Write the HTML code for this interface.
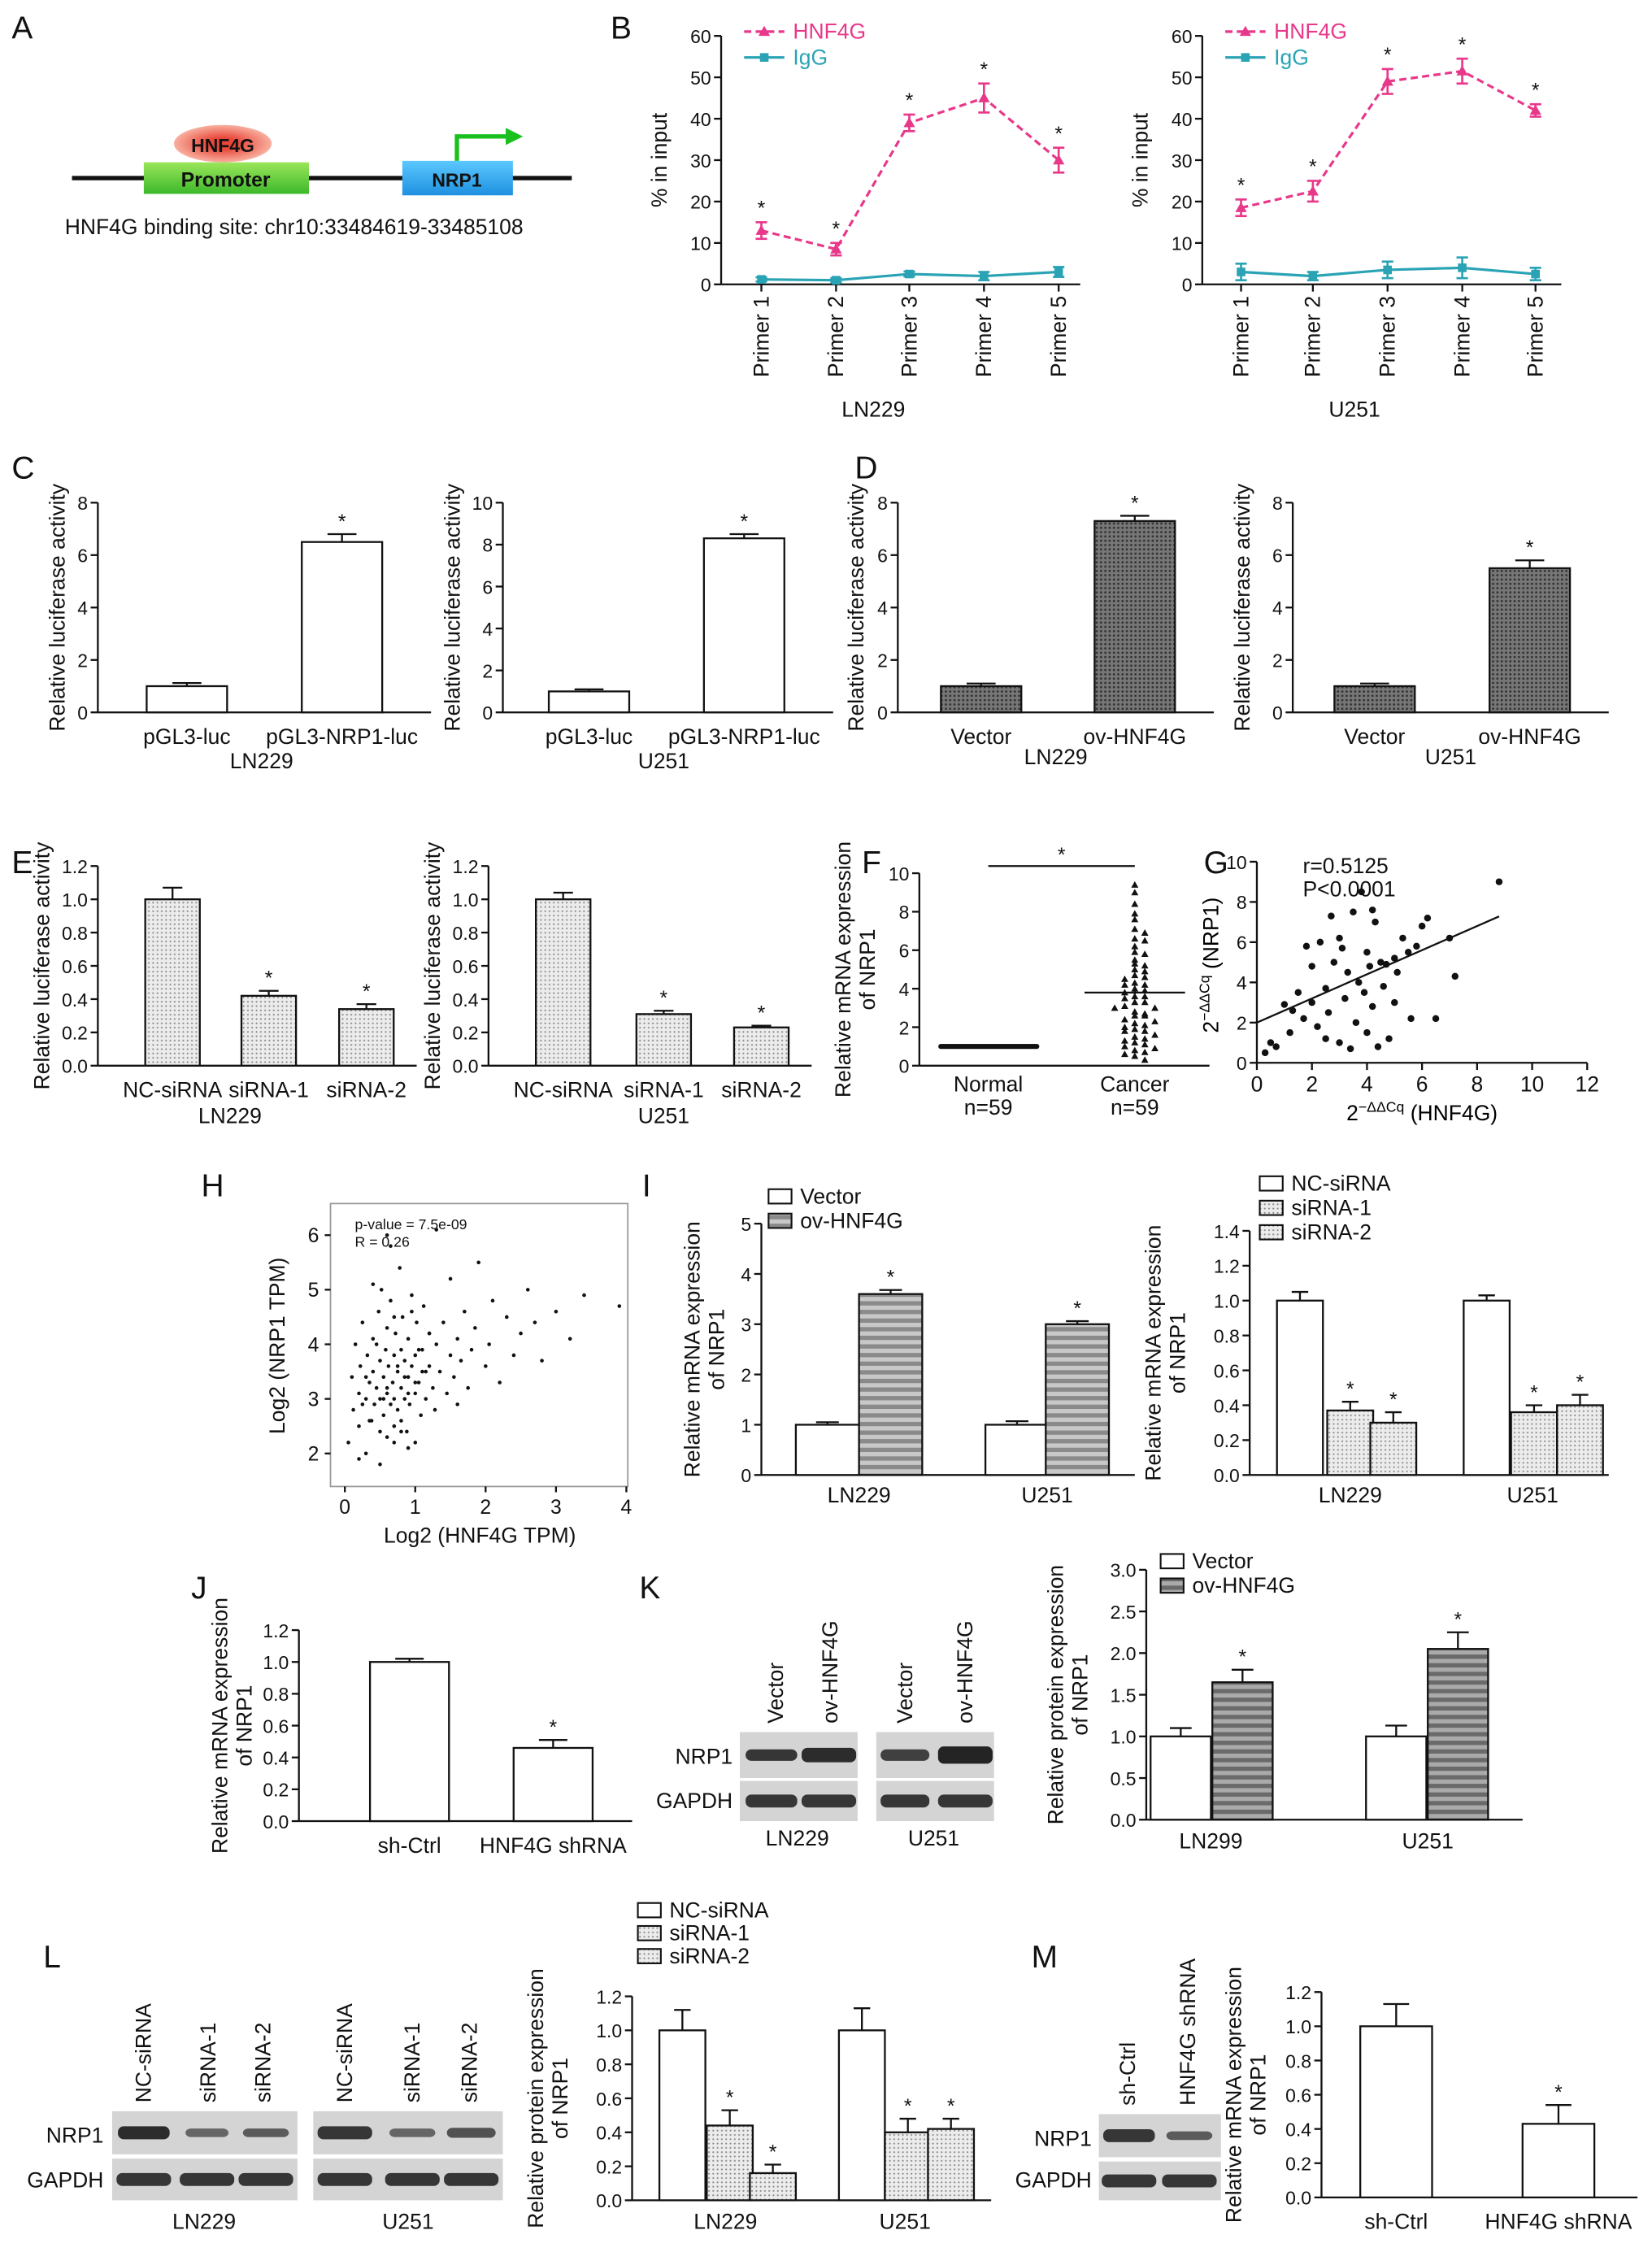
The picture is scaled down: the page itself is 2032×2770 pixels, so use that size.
<!DOCTYPE html>
<html><head><meta charset="utf-8"><style>
html,body{margin:0;padding:0;background:#fff;}
svg{display:block;font-family:"Liberation Sans",Arial,sans-serif;}
</style></head><body>
<svg id="fig" width="2032" height="2770" viewBox="0 0 1150 1568" xmlns="http://www.w3.org/2000/svg">
<defs>
<pattern id="pDots" width="3" height="3" patternUnits="userSpaceOnUse"><rect width="3" height="3" fill="#ececec"/><circle cx="1.5" cy="1.5" r="0.6" fill="#888"/></pattern>
<pattern id="pDark" width="3" height="3" patternUnits="userSpaceOnUse"><rect width="3" height="3" fill="#777"/><circle cx="1.5" cy="1.5" r="0.8" fill="#333"/></pattern>
<pattern id="pStripe" width="6" height="6" patternUnits="userSpaceOnUse"><rect width="6" height="6" fill="#c8c8c8"/><rect width="6" height="3" fill="#8a8a8a"/></pattern>
<pattern id="pStripe2" width="6" height="6" patternUnits="userSpaceOnUse"><rect width="6" height="6" fill="#aaa"/><rect width="6" height="3" fill="#6a6a6a"/></pattern>
<linearGradient id="gProm" x1="0" y1="0" x2="0" y2="1"><stop offset="0" stop-color="#9be65a"/><stop offset="1" stop-color="#3cb82a"/></linearGradient>
<linearGradient id="gNrp" x1="0" y1="0" x2="0" y2="1"><stop offset="0" stop-color="#5cc8ff"/><stop offset="1" stop-color="#1e90e0"/></linearGradient>
<radialGradient id="gHnf"><stop offset="0.3" stop-color="#e8473a"/><stop offset="1" stop-color="#f8b0a0"/></radialGradient>
</defs>
</svg>
<script>
// ---------------- DATA ----------------
const B_primers=['Primer 1','Primer 2','Primer 3','Primer 4','Primer 5'];
const B1_hnf=[13,8.5,39,45,30];
const B1_hnfErr=[2,1.5,2,3.5,3];
const B1_igg=[1.2,1,2.5,2,3];
const B1_iggErr=[0.5,0.5,0.6,1,1.2];
const B2_hnf=[18.5,22.5,49,51.5,42];
const B2_hnfErr=[2,2.5,3,3,1.5];
const B2_igg=[3,2,3.5,4,2.5];
const B2_iggErr=[2,1,2,2.5,1.5];
const C_cats=['pGL3-luc','pGL3-NRP1-luc'];
const C1_vals=[1.0,6.5];const C1_err=[0.12,0.3];
const C2_vals=[1.0,8.3];const C2_err=[0.1,0.2];
const D_cats=['Vector','ov-HNF4G'];
const D1_vals=[1.0,7.3];const D1_err=[0.1,0.2];
const D2_vals=[1.0,5.5];const D2_err=[0.1,0.3];
const E_cats=['NC-siRNA','siRNA-1','siRNA-2'];
const E1_vals=[1.0,0.42,0.34];const E1_err=[0.07,0.03,0.03];
const E2_vals=[1.0,0.31,0.23];const E2_err=[0.04,0.02,0.01];
const F_normal=1.0;
const F_cancer=[9.4,9.0,8.4,7.9,7.6,7.1,6.9,6.6,6.5,6.2,5.9,5.8,5.5,5.3,5.2,5.0,4.9,4.7,4.6,4.5,4.3,4.2,4.2,4.0,3.9,3.8,3.6,3.6,3.5,3.3,3.3,3.1,3.0,3.0,2.8,2.7,2.6,2.6,2.4,2.3,2.2,2.1,2.0,1.9,1.8,1.8,1.6,1.5,1.4,1.3,1.2,1.1,1.0,0.9,0.8,0.7,0.6,0.5,0.3];
const F_mean=3.8;const F_sem=0.3;
const G_x=[0.3,0.5,0.7,1,1.2,1.5,1.7,2,2,2.2,2.3,2.5,2.6,2.8,3,3,3.2,3.3,3.4,3.5,3.6,3.7,3.8,3.9,4,4,4.1,4.2,4.3,4.4,4.5,4.6,4.7,4.8,5,5,5.1,5.3,5.5,5.6,5.8,6,6.2,6.5,7,7.2,8.8,1.8,2.7,4.2,3.1,2.5,1.3];
const G_y=[0.5,1,0.8,2.9,1.5,3.5,2.2,3,4.8,1.8,6,3.7,2.5,5,1,6.2,3.2,4.5,0.7,7.5,2,4,8.5,3.5,1.5,5.5,4.8,2.8,7,0.8,5,3.8,4.9,1.2,5.2,3,4.5,6.2,5.5,2.2,5.8,6.8,7.2,2.2,6.2,4.3,9,5.8,7.3,7.6,5.7,1.2,2.6];
const G_fit=[2.0,0.6];
const H_x=[0.05,0.1,0.12,0.15,0.2,0.2,0.22,0.25,0.3,0.3,0.32,0.35,0.38,0.4,0.4,0.42,0.45,0.48,0.5,0.5,0.5,0.52,0.55,0.55,0.58,0.6,0.6,0.6,0.62,0.65,0.65,0.68,0.7,0.7,0.7,0.72,0.75,0.75,0.78,0.8,0.8,0.8,0.82,0.85,0.85,0.88,0.9,0.9,0.92,0.95,0.95,1.0,1.0,1.0,1.02,1.05,1.08,1.1,1.1,1.12,1.15,1.2,1.2,1.25,1.28,1.3,1.35,1.4,1.45,1.5,1.5,1.55,1.6,1.65,1.7,1.75,1.8,1.85,1.9,2.0,2.05,2.1,2.2,2.3,2.4,2.5,2.6,2.7,2.8,3.0,3.2,3.4,3.9,0.3,0.45,0.6,0.75,0.9,1.05,1.2,0.35,0.55,0.7,0.85,1.0,0.25,0.65,0.95,1.15,0.5,0.8,0.4,0.6,0.7,1.3,1.6,0.2,0.9];
const H_y=[2.2,3.4,2.8,4.0,3.1,2.5,3.6,4.4,3.0,2.0,3.8,3.3,2.6,4.1,3.5,2.9,3.2,4.6,2.4,3.7,3.0,5.0,3.4,2.7,3.9,3.1,4.3,2.3,3.6,2.9,4.8,3.3,3.0,3.8,2.5,4.2,3.5,2.8,5.4,3.2,3.9,2.6,4.5,3.0,3.7,2.4,3.4,4.1,2.9,3.6,4.9,3.1,3.8,2.2,4.4,3.3,2.7,3.9,3.5,4.7,3.0,3.6,4.2,3.2,2.8,4.0,3.5,4.4,3.1,3.8,5.2,3.4,4.1,3.7,4.6,3.2,3.9,4.3,5.5,3.6,4.0,4.8,3.3,4.5,3.8,4.2,5.0,4.4,3.7,4.6,4.1,4.9,4.7,3.4,4.0,3.2,3.6,3.1,3.9,4.2,2.6,3.0,4.5,3.4,3.3,2.9,5.8,4.6,3.5,1.8,2.4,5.1,6.0,2.2,6.1,2.9,1.9,2.1];
const I1_groups=['LN229','U251'];
const I1_vec=[1.0,1.0];const I1_vecErr=[0.05,0.07];
const I1_ov=[3.6,3.0];const I1_ovErr=[0.08,0.06];
const I2_nc=[1.0,1.0];const I2_ncErr=[0.05,0.03];
const I2_s1=[0.37,0.36];const I2_s1Err=[0.05,0.04];
const I2_s2=[0.30,0.40];const I2_s2Err=[0.06,0.06];
const J_cats=['sh-Ctrl','HNF4G shRNA'];
const J_vals=[1.0,0.46];const J_err=[0.02,0.05];
const K_groups=['LN299','U251'];
const K_vec=[1.0,1.0];const K_vecErr=[0.1,0.13];
const K_ov=[1.65,2.05];const K_ovErr=[0.15,0.2];
const L_groups=['LN229','U251'];
const L_nc=[1.0,1.0];const L_ncErr=[0.12,0.13];
const L_s1=[0.44,0.40];const L_s1Err=[0.09,0.08];
const L_s2=[0.16,0.42];const L_s2Err=[0.05,0.06];
const M_cats=['sh-Ctrl','HNF4G shRNA'];
const M_vals=[1.0,0.43];const M_err=[0.13,0.11];

// ---------------- HELPERS ----------------
const NS='http://www.w3.org/2000/svg';
const svg=document.getElementById('fig');
function el(tag,attrs,name,parent,text){
  const e=document.createElementNS(NS,tag);
  for(const k in attrs)e.setAttribute(k,attrs[k]);
  
  
  if(text!==undefined)e.textContent=text;
  (parent||svg).appendChild(e);return e;
}
function grp(name){return el('g',{},name);}
function T(g,x,y,s,name,o){o=o||{};
  const a={x:x,y:y,'font-size':o.fs||14,'text-anchor':o.a||'middle',fill:o.fill||'#111'};
  if(o.rot!==undefined)a.transform='rotate('+o.rot+' '+x+' '+y+')';
  if(o.fw)a['font-weight']=o.fw;
  return el('text',a,name,g,s);}
function L(g,x1,y1,x2,y2,name,o){o=o||{};
  const a={x1:x1,y1:y1,x2:x2,y2:y2,stroke:o.c||'#111','stroke-width':o.w||1.3};
  if(o.dash)a['stroke-dasharray']=o.dash;
  return el('line',a,name,g);}
function panelLabel(s,x,y){T(svg,x,y,s,'panel-label-'+s.toLowerCase(),{fs:22,a:'start'});}
function yAxis(g,ax){
  const sc=v=>ax.y0-(v/ax.max)*(ax.y0-ax.y1);
  L(g,ax.x,ax.y0,ax.x,ax.y1,'y-axis-line');
  for(let v=0;v<=ax.max+1e-9;v+=ax.step){
    const y=sc(v);L(g,ax.x-5,y,ax.x,y,'y-tick');
    T(g,ax.x-7,y+5,v.toFixed(ax.dec||0),'y-tick-label',{a:'end',fs:13});
  }
  if(ax.xEnd)L(g,ax.x,ax.y0,ax.xEnd,ax.y0,'x-axis-line');
  if(ax.ylabel){const my=(ax.y0+ax.y1)/2;
    ax.ylabel.forEach((s,i)=>T(g,ax.ylx+i*17,my,s,'y-axis-title',{rot:-90,fs:15}));}
  return sc;
}
function bar(g,sc,y0,cx,w,v,err,fill,star,name){
  const yt=sc(v);
  el('rect',{x:cx-w/2,y:yt,width:w,height:y0-yt,fill:fill,stroke:'#111','stroke-width':1.3},name,g);
  if(err){const ye=sc(v+err);L(g,cx,yt,cx,ye,'error-bar');L(g,cx-w*0.18,ye,cx+w*0.18,ye,'error-cap');}
  if(star)T(g,cx,sc(v+(err||0))-4,'*','significance-star',{fs:14});
}
function legendBox(g,x,y,fill,s){
  el('rect',{x:x,y:y-10,width:16,height:10,fill:fill,stroke:'#111','stroke-width':1.2},'legend-swatch',g);
  T(g,x+22,y,s,'legend-label',{a:'start',fs:15});
}

// ---------------- PANEL A ----------------
(function(){const g=grp('panel-a-promoter-diagram');panelLabel('A',8,27);
  L(g,50,124,398,124,'dna-line',{w:3});
  el('rect',{x:100,y:113,width:115,height:22,fill:'url(#gProm)'},'promoter-box',g);
  T(g,157,130,'Promoter','promoter-label',{fs:14,fw:'bold'});
  el('ellipse',{cx:155,cy:100,rx:34,ry:13,fill:'url(#gHnf)'},'hnf4g-ellipse',g);
  T(g,155,106,'HNF4G','hnf4g-label',{fs:13,fw:'bold'});
  el('rect',{x:280,y:112,width:77,height:24,fill:'url(#gNrp)'},'nrp1-box',g);
  T(g,318,130,'NRP1','nrp1-label',{fs:13,fw:'bold'});
  el('path',{d:'M318 112 V95 H355',stroke:'#19c01e','stroke-width':3,fill:'none'},'tss-arrow',g);
  el('path',{d:'M352 89 L364 95 L352 101 Z',fill:'#19c01e'},'tss-arrowhead',g);
  T(g,45,163,'HNF4G binding site: chr10:33484619-33485108','binding-site-text',{a:'start',fs:15});
})();

// ---------------- PANEL B ----------------
function lineChart(name,ax0,xs,hnf,hnfE,igg,iggE,cell){
  const g=grp(name);
  const sc=yAxis(g,{x:ax0,y0:198,y1:25,max:60,step:10,xEnd:ax0+250,ylabel:['% in input'],ylx:ax0-38});
  xs.forEach((x,i)=>{L(g,x,198,x,203,'x-tick');
    T(g,x+5,206,B_primers[i],'x-tick-label',{a:'end',rot:-90,fs:15});});
  T(g,ax0+106,290,cell,'cell-line-label',{fs:15});
  const pts=(d)=>d.map((v,i)=>xs[i]+','+sc(v)).join(' ');
  el('polyline',{points:pts(igg),fill:'none',stroke:'#2aa3b5','stroke-width':1.8},'igg-line',g);
  el('polyline',{points:pts(hnf),fill:'none',stroke:'#e8388a','stroke-width':1.8,'stroke-dasharray':'5,3'},'hnf4g-line',g);
  xs.forEach((x,i)=>{
    [[igg,iggE,'#2aa3b5','igg'],[hnf,hnfE,'#e8388a','hnf4g']].forEach(s=>{
      const v=s[0][i],e=s[1][i];
      L(g,x,sc(v-e),x,sc(v+e),s[3]+'-error-bar',{c:s[2],w:1.5});
      L(g,x-4,sc(v-e),x+4,sc(v-e),s[3]+'-error-cap',{c:s[2],w:1.5});
      L(g,x-4,sc(v+e),x+4,sc(v+e),s[3]+'-error-cap',{c:s[2],w:1.5});
      if(s[3]==='igg')el('rect',{x:x-3,y:sc(v)-3,width:6,height:6,fill:s[2]},'igg-point',g);
      else el('path',{d:`M${x-4} ${sc(v)+3} L${x+4} ${sc(v)+3} L${x} ${sc(v)-4}Z`,fill:s[2]},'hnf4g-point',g);
    });
    T(g,x,sc(hnf[i]+hnfE[i])-5,'*','significance-star',{fs:14});
  });
  const lx=ax0+16;
  L(g,lx,22,lx+28,22,'legend-hnf4g-line',{c:'#e8388a',w:1.8,dash:'5,3'});
  el('path',{d:`M${lx+10} 25 L${lx+18} 25 L${lx+14} 18Z`,fill:'#e8388a'},'legend-hnf4g-marker',g);
  T(g,lx+34,27,'HNF4G','legend-hnf4g-label',{a:'start',fs:15,fill:'#e8388a'});
  L(g,lx,40,lx+28,40,'legend-igg-line',{c:'#2aa3b5',w:1.8});
  el('rect',{x:lx+11,y:37,width:6,height:6,fill:'#2aa3b5'},'legend-igg-marker',g);
  T(g,lx+34,45,'IgG','legend-igg-label',{a:'start',fs:15,fill:'#2aa3b5'});
}
panelLabel('B',425,27);
lineChart('panel-b-ln229-chip',502,[530,582,633,685,737],B1_hnf,B1_hnfErr,B1_igg,B1_iggErr,'LN229');
lineChart('panel-b-u251-chip',837,[864,914,966,1018,1069],B2_hnf,B2_hnfErr,B2_igg,B2_iggErr,'U251');

// ---------------- generic bar chart ----------------
function barChart(name,o){
  const g=grp(name);
  const sc=yAxis(g,o.ax);
  o.cx.forEach((cx,i)=>{
    bar(g,sc,o.ax.y0,cx,o.w,o.vals[i],o.err[i],o.fills[i],o.stars[i],'bar-'+i);
    if(o.cats)T(g,cx,o.ax.y0+22,o.cats[i],'x-tick-label',{fs:15});
  });
  if(o.sub)T(g,o.sub[0],o.sub[1],o.sub[2],'cell-line-label',{fs:15});
  return {g:g,sc:sc};
}
const lucY=['Relative luciferase activity'];
panelLabel('C',8,333);
barChart('panel-c-ln229',{ax:{x:68,y0:496,y1:350,max:8,step:2,xEnd:300,ylabel:lucY,ylx:45},cx:[130,238],w:56,vals:C1_vals,err:C1_err,fills:['#fff','#fff'],stars:[0,1],cats:C_cats,sub:[182,535,'LN229']});
barChart('panel-c-u251',{ax:{x:350,y0:496,y1:350,max:10,step:2,xEnd:580,ylabel:lucY,ylx:320},cx:[410,518],w:56,vals:C2_vals,err:C2_err,fills:['#fff','#fff'],stars:[0,1],cats:C_cats,sub:[462,535,'U251']});
panelLabel('D',595,333);
barChart('panel-d-ln229',{ax:{x:625,y0:496,y1:350,max:8,step:2,xEnd:845,ylabel:lucY,ylx:601},cx:[683,790],w:56,vals:D1_vals,err:D1_err,fills:['url(#pDark)','url(#pDark)'],stars:[0,1],cats:D_cats,sub:[735,532,'LN229']});
barChart('panel-d-u251',{ax:{x:900,y0:496,y1:350,max:8,step:2,xEnd:1120,ylabel:lucY,ylx:870},cx:[957,1065],w:56,vals:D2_vals,err:D2_err,fills:['url(#pDark)','url(#pDark)'],stars:[0,1],cats:D_cats,sub:[1010,532,'U251']});
panelLabel('E',8,608);
barChart('panel-e-ln229',{ax:{x:68,y0:742,y1:603,max:1.2,step:0.2,dec:1,xEnd:290,ylabel:lucY,ylx:34},cx:[120,187,255],w:38,vals:E1_vals,err:E1_err,fills:['url(#pDots)','url(#pDots)','url(#pDots)'],stars:[0,1,1],cats:E_cats,sub:[160,782,'LN229']});
barChart('panel-e-u251',{ax:{x:340,y0:742,y1:603,max:1.2,step:0.2,dec:1,xEnd:565,ylabel:lucY,ylx:306},cx:[392,462,530],w:38,vals:E2_vals,err:E2_err,fills:['url(#pDots)','url(#pDots)','url(#pDots)'],stars:[0,1,1],cats:E_cats,sub:[462,782,'U251']});

// ---------------- PANEL F ----------------
(function(){panelLabel('F',600,608);const g=grp('panel-f-scatter');
  const sc=yAxis(g,{x:640,y0:742,y1:608,max:10,step:2,xEnd:842,ylabel:['Relative mRNA expression','of NRP1'],ylx:592});
  for(let i=0;i<59;i++)el('circle',{cx:655+i*1.15,cy:sc(F_normal),r:1.8,fill:'#111'},'normal-point',g);
  const bins={};
  F_cancer.forEach(v=>{const b=Math.round(v/0.35);bins[b]=(bins[b]||0)+1;const k=bins[b]-1;
    const off=(k%2?1:-1)*Math.ceil(k/2)*7;
    el('path',{d:`M${790+off-2.5} ${sc(v)+2} L${790+off+2.5} ${sc(v)+2} L${790+off} ${sc(v)-2.5}Z`,fill:'#111'},'cancer-point',g);});
  L(g,655,sc(F_normal),722,sc(F_normal),'normal-mean-line');
  L(g,755,sc(F_mean),825,sc(F_mean),'cancer-mean-line');
  L(g,790,sc(F_mean-F_sem),790,sc(F_mean+F_sem),'cancer-sem');
  L(g,688,603,790,603,'significance-bar');T(g,739,600,'*','significance-star');
  T(g,688,760,'Normal','x-tick-label',{fs:15});T(g,688,776,'n=59','x-tick-label',{fs:15});
  T(g,790,760,'Cancer','x-tick-label',{fs:15});T(g,790,776,'n=59','x-tick-label',{fs:15});
})();

// ---------------- PANEL G ----------------
(function(){panelLabel('G',838,608);const g=grp('panel-g-correlation');
  const sy=yAxis(g,{x:875,y0:740,y1:600,max:10,step:2,xEnd:1105});
  const sx=v=>875+v/12*230;
  for(let v=0;v<=12;v+=2){L(g,sx(v),740,sx(v),745,'x-tick');T(g,sx(v),760,v,'x-tick-label',{fs:15});}
  G_x.forEach((x,i)=>el('circle',{cx:sx(x),cy:sy(G_y[i]),r:2.4,fill:'#111'},'scatter-point',g));
  L(g,sx(0),sy(G_fit[0]),sx(8.8),sy(G_fit[0]+G_fit[1]*8.8),'regression-line');
  T(g,907,608,'r=0.5125','r-value',{a:'start',fs:15});T(g,907,624,'P<0.0001','p-value',{a:'start',fs:15});
  const yl=el('text',{x:848,y:672,'font-size':15,'text-anchor':'middle',transform:'rotate(-90 848 672)'},'y-axis-title',g);
  yl.innerHTML='2<tspan dy="-6" font-size="10">−ΔΔCq</tspan><tspan dy="6"> (NRP1)</tspan>';
  const xl=el('text',{x:990,y:780,'font-size':15,'text-anchor':'middle'},'x-axis-title',g);
  xl.innerHTML='2<tspan dy="-6" font-size="10">−ΔΔCq</tspan><tspan dy="6"> (HNF4G)</tspan>';
})();

// ---------------- PANEL H ----------------
(function(){panelLabel('H',140,833);const g=grp('panel-h-gepia');
  el('rect',{x:230,y:838,width:207,height:197,fill:'#fff',stroke:'#999','stroke-width':1},'plot-frame',g);
  const sx=v=>240+v*49, sy=v=>1012-(v-2)*38;
  for(let v=0;v<=4;v++){L(g,sx(v),1035,sx(v),1039,'x-tick');T(g,sx(v),1054,v,'x-tick-label',{fs:14});}
  for(let v=2;v<=6;v++){L(g,226,sy(v),230,sy(v),'y-tick');T(g,222,sy(v)+5,v,'y-tick-label',{a:'end',fs:14});}
  H_x.forEach((x,i)=>el('circle',{cx:sx(x),cy:sy(H_y[i]),r:1.3,fill:'#111'},'scatter-point',g));
  T(g,247,856,'p-value = 7.5e-09','p-value',{a:'start',fs:10});T(g,247,868,'R = 0.26','r-value',{a:'start',fs:10});
  T(g,198,937,'Log2 (NRP1 TPM)','y-axis-title',{rot:-90,fs:15});T(g,334,1074,'Log2 (HNF4G TPM)','x-axis-title',{fs:15});
})();

// ---------------- PANEL I ----------------
panelLabel('I',447,833);
(function(){const r=barChart('panel-i-overexpression',{ax:{x:530,y0:1027,y1:852,max:5,step:1,xEnd:790,ylabel:['Relative mRNA expression','of NRP1'],ylx:487},cx:[576,620,708,750],w:44,vals:[I1_vec[0],I1_ov[0],I1_vec[1],I1_ov[1]],err:[I1_vecErr[0],I1_ovErr[0],I1_vecErr[1],I1_ovErr[1]],fills:['#fff','url(#pStripe)','#fff','url(#pStripe)'],stars:[0,1,0,1]});
  T(r.g,598,1046,I1_groups[0],'x-tick-label',{fs:15});T(r.g,729,1046,I1_groups[1],'x-tick-label',{fs:15});
  legendBox(r.g,535,838,'#fff','Vector');legendBox(r.g,535,855,'url(#pStripe)','ov-HNF4G');})();
(function(){const d='url(#pDots)';const r=barChart('panel-i-knockdown',{ax:{x:870,y0:1027,y1:857,max:1.4,step:0.2,dec:1,xEnd:1120,ylabel:['Relative mRNA expression','of NRP1'],ylx:808},cx:[905,940,970,1035,1068,1100],w:32,vals:[I2_nc[0],I2_s1[0],I2_s2[0],I2_nc[1],I2_s1[1],I2_s2[1]],err:[I2_ncErr[0],I2_s1Err[0],I2_s2Err[0],I2_ncErr[1],I2_s1Err[1],I2_s2Err[1]],fills:['#fff',d,d,'#fff',d,d],stars:[0,1,1,0,1,1]});
  T(r.g,940,1046,'LN229','x-tick-label',{fs:15});T(r.g,1067,1046,'U251','x-tick-label',{fs:15});
  legendBox(r.g,877,829,'#fff','NC-siRNA');legendBox(r.g,877,846,d,'siRNA-1');legendBox(r.g,877,863,d,'siRNA-2');})();

// ---------------- PANEL J ----------------
panelLabel('J',133,1113);
barChart('panel-j-shrna',{ax:{x:208,y0:1268,y1:1135,max:1.2,step:0.2,dec:1,xEnd:440,ylabel:['Relative mRNA expression','of NRP1'],ylx:158},cx:[285,385],w:55,vals:J_vals,err:J_err,fills:['#fff','#fff'],stars:[0,1],cats:J_cats});

// ---------------- BLOTS ----------------
function blot(g,x,y,w,h,bands,name){
  el('rect',{x:x,y:y,width:w,height:h,fill:'#d4d4d4'},name+'-bg',g);
  bands.forEach(b=>el('rect',{x:b[0]-b[1]/2,y:y+h/2-b[2]/2,width:b[1],height:b[2],rx:4,fill:'#1a1a1a',opacity:b[3]},name+'-band',g));
}
(function(){panelLabel('K',445,1113);const g=grp('panel-k-western');
  [[540,'Vector'],[578,'ov-HNF4G'],[630,'Vector'],[672,'ov-HNF4G']].forEach(l=>T(g,l[0]+5,1200,l[1],'lane-label',{a:'start',rot:-90,fs:15}));
  blot(g,515,1206,82,32,[[537,36,8,0.85],[577,38,10,0.9]],'ln229-nrp1');
  blot(g,515,1240,82,28,[[537,36,9,0.85],[577,38,9,0.85]],'ln229-gapdh');
  blot(g,610,1206,82,32,[[630,34,8,0.8],[672,38,12,0.95]],'u251-nrp1');
  blot(g,610,1240,82,28,[[630,34,9,0.85],[672,38,9,0.85]],'u251-gapdh');
  T(g,510,1228,'NRP1','row-label',{a:'end',fs:15});T(g,510,1259,'GAPDH','row-label',{a:'end',fs:15});
  T(g,555,1285,'LN229','cell-line-label',{fs:15});T(g,650,1285,'U251','cell-line-label',{fs:15});
})();
(function(){const s='url(#pStripe2)';const r=barChart('panel-k-quant',{ax:{x:798,y0:1267,y1:1093,max:3.0,step:0.5,dec:1,xEnd:1060,ylabel:['Relative protein expression','of NRP1'],ylx:740},cx:[822,865,972,1015],w:42,vals:[K_vec[0],K_ov[0],K_vec[1],K_ov[1]],err:[K_vecErr[0],K_ovErr[0],K_vecErr[1],K_ovErr[1]],fills:['#fff',s,'#fff',s],stars:[0,1,0,1]});
  T(r.g,843,1287,K_groups[0],'x-tick-label',{fs:15});T(r.g,994,1287,K_groups[1],'x-tick-label',{fs:15});
  legendBox(r.g,808,1092,'#fff','Vector');legendBox(r.g,808,1109,s,'ov-HNF4G');})();

(function(){panelLabel('L',30,1370);const g=grp('panel-l-western');
  [[100,'NC-siRNA'],[145,'siRNA-1'],[183,'siRNA-2'],[240,'NC-siRNA'],[287,'siRNA-1'],[327,'siRNA-2']].forEach(l=>T(g,l[0]+5,1464,l[1],'lane-label',{a:'start',rot:-90,fs:15}));
  blot(g,78,1470,129,30,[[100,36,9,0.9],[144,30,6,0.6],[185,32,6,0.65]],'ln229-nrp1');
  blot(g,78,1503,129,29,[[100,38,9,0.85],[144,38,9,0.85],[185,38,9,0.85]],'ln229-gapdh');
  blot(g,218,1470,132,30,[[240,38,9,0.85],[287,32,6,0.6],[328,34,7,0.7]],'u251-nrp1');
  blot(g,218,1503,132,29,[[240,38,9,0.85],[287,38,9,0.85],[328,38,9,0.85]],'u251-gapdh');
  T(g,72,1492,'NRP1','row-label',{a:'end',fs:15});T(g,72,1523,'GAPDH','row-label',{a:'end',fs:15});
  T(g,142,1552,'LN229','cell-line-label',{fs:15});T(g,284,1552,'U251','cell-line-label',{fs:15});
})();
(function(){const d='url(#pDots)';const r=barChart('panel-l-quant',{ax:{x:440,y0:1532,y1:1390,max:1.2,step:0.2,dec:1,xEnd:690,ylabel:['Relative protein expression','of NRP1'],ylx:378},cx:[475,508,538,600,632,662],w:32,vals:[L_nc[0],L_s1[0],L_s2[0],L_nc[1],L_s1[1],L_s2[1]],err:[L_ncErr[0],L_s1Err[0],L_s2Err[0],L_ncErr[1],L_s1Err[1],L_s2Err[1]],fills:['#fff',d,d,'#fff',d,d],stars:[0,1,1,0,1,1]});
  T(r.g,505,1552,L_groups[0],'x-tick-label',{fs:15});T(r.g,630,1552,L_groups[1],'x-tick-label',{fs:15});
  legendBox(r.g,444,1335,'#fff','NC-siRNA');legendBox(r.g,444,1351,d,'siRNA-1');legendBox(r.g,444,1367,d,'siRNA-2');})();

(function(){panelLabel('M',718,1370);const g=grp('panel-m-western');
  T(g,790,1466,'sh-Ctrl','lane-label',{a:'start',rot:-90,fs:15});T(g,832,1466,'HNF4G shRNA','lane-label',{a:'start',rot:-90,fs:15});
  blot(g,765,1472,85,30,[[786,36,9,0.85],[828,32,6,0.65]],'nrp1');
  blot(g,765,1505,85,27,[[786,38,9,0.85],[828,38,9,0.85]],'gapdh');
  T(g,760,1494,'NRP1','row-label',{a:'end',fs:15});T(g,760,1523,'GAPDH','row-label',{a:'end',fs:15});
})();
barChart('panel-m-quant',{ax:{x:920,y0:1530,y1:1387,max:1.2,step:0.2,dec:1,xEnd:1140,ylabel:['Relative mRNA expression','of NRP1'],ylx:864},cx:[972,1085],w:50,vals:M_vals,err:M_err,fills:['#fff','#fff'],stars:[0,1],cats:M_cats});
</script>
</body></html>
